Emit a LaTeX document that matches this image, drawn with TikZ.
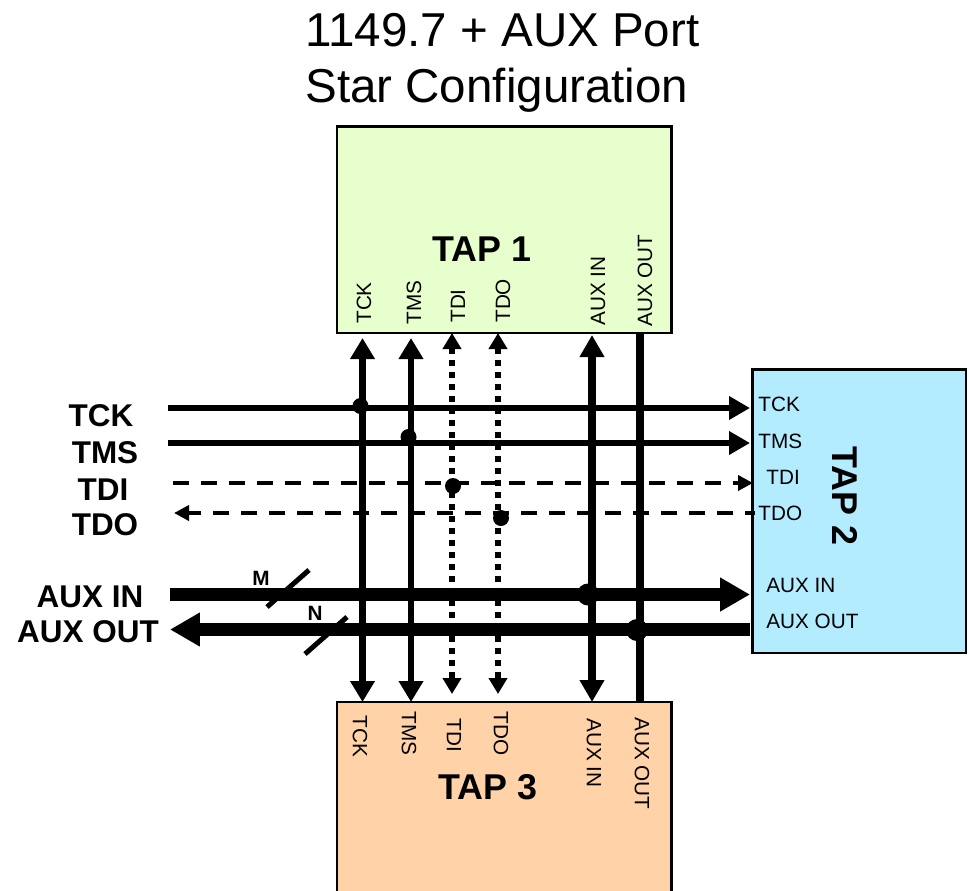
\documentclass[tikz,border=0pt]{standalone}
\usepackage{fontspec}
\setmainfont{Liberation Sans}
\usetikzlibrary{arrows.meta}
\definecolor{tapgreen}{HTML}{E6FFCC}
\definecolor{tapblue}{HTML}{B3ECFF}
\definecolor{taporange}{HTML}{FFD2A8}
\begin{document}
\begin{tikzpicture}[
  x=0.02cm, y=-0.02cm,
  tapbox/.style={draw=black, line width=0.05cm, anchor=north west, inner sep=0pt},
  taptitle/.style={font=\fontsize{20.4}{23}\selectfont\bfseries, inner sep=0pt},
  sigbold/.style={font=\fontsize{17.9}{20}\selectfont\bfseries, inner sep=0pt},
  port/.style={font=\fontsize{11.8}{14}\selectfont, inner sep=0pt},
  portup/.style={port, rotate=90, anchor=west},
  portdown/.style={port, rotate=-90, anchor=west},
  portright/.style={port, anchor=west},
  buswidth/.style={font=\fontsize{11.8}{13}\selectfont\bfseries, inner sep=0pt},
  jdot/.style={circle, fill=black, inner sep=0pt, minimum size=0.32cm},
  jdotbig/.style={circle, fill=black, inner sep=0pt, minimum size=0.44cm},
  sigv/.style={line width=0.125cm, >={Triangle[length=0.42cm,width=0.47cm]}},
  sigh/.style={line width=0.11cm, >={Triangle[length=0.42cm,width=0.45cm]}},
  dotted line/.style={line width=0.12cm, dash pattern=on 0.12cm off 0.12cm, >={Triangle[length=0.32cm,width=0.36cm]}},
  dashed line/.style={line width=0.08cm, dash pattern=on 0.32cm off 0.24cm, >={Triangle[length=0.3cm,width=0.3cm]}},
  auxv/.style={line width=0.16cm, >={Triangle[length=0.44cm,width=0.47cm]}},
  auxh/.style={line width=0.25cm, >={Triangle[length=0.6cm,width=0.64cm]}},
  slash/.style={line width=0.1cm}
]
  \useasboundingbox (0,0) rectangle (969,890);
  \clip (0,0) rectangle (969,890);

  % --- title ---
  \node[align=left, anchor=west, inner sep=0pt, font=\fontsize{27.05}{31.7}\selectfont] (title) at (305,63) {1149.7 + AUX Port\\Star Configuration};

  % --- TAP 1 ---
  \node[tapbox, fill=tapgreen, minimum width=6.7cm, minimum height=4.135cm] (tap1) at (335.5,125) {};
  \node[taptitle] (tap1name) at (482,249) {TAP 1};
  \node[portup] (tck1) at (364,324) {TCK};
  \node[portup] (tms1) at (414,325) {TMS};
  \node[portup] (tdi1) at (458,323) {TDI};
  \node[portup] (tdo1) at (503,323) {TDO};
  \node[portup] (auxin1) at (598,326) {AUX IN};
  \node[portup] (auxout1) at (645,327) {AUX OUT};

  % --- TAP 2 ---
  \node[tapbox, fill=tapblue, minimum width=4.28cm, minimum height=5.68cm] (tap2) at (751,368) {};
  \node[taptitle, rotate=-90] (tap2name) at (845,496) {TAP 2};
  \node[portright] (tck2) at (758,404) {TCK};
  \node[portright] (tms2) at (758,441) {TMS};
  \node[portright] (tdi2) at (766,477) {TDI};
  \node[portright] (tdo2) at (758,513) {TDO};
  \node[portright] (auxin2) at (766,585) {AUX IN};
  \node[portright] (auxout2) at (766,621) {AUX OUT};

  % --- TAP 3 ---
  \node[tapbox, fill=taporange, minimum width=6.7cm, minimum height=4.4cm] (tap3) at (335.5,700.75) {};
  \node[taptitle] (tap3name) at (488,787) {TAP 3};
  \node[portdown] (tck3) at (360,715) {TCK};
  \node[portdown] (tms3) at (409,711) {TMS};
  \node[portdown] (tdi3) at (454,718) {TDI};
  \node[portdown] (tdo3) at (501,711) {TDO};
  \node[portdown] (auxin3) at (594,718) {AUX IN};
  \node[portdown] (auxout3) at (642,717) {AUX OUT};

  % --- left labels ---
  \node[sigbold] (ltck) at (101,416) {TCK};
  \node[sigbold] (ltms) at (105,453) {TMS};
  \node[sigbold] (ltdi) at (103,490) {TDI};
  \node[sigbold] (ltdo) at (105,525) {TDO};
  \node[sigbold] (lauxin) at (90,597) {AUX IN};
  \node[sigbold] (lauxout) at (88,632) {AUX OUT};

  % --- free ends ---
  \coordinate (tcktop) at (362.5,338);
  \coordinate (tckbot) at (362.5,702);
  \coordinate (tmstop) at (411,338);
  \coordinate (tmsbot) at (411,702);
  \coordinate (tditop) at (452,333);
  \coordinate (tdibot) at (452,694);
  \coordinate (tdotop) at (498,333);
  \coordinate (tdobot) at (498,694);
  \coordinate (auxintop) at (592,335);
  \coordinate (auxinbot) at (592,702);
  \coordinate (auxouttop) at (640,333);
  \coordinate (auxoutbot) at (640,702);
  \coordinate (htck) at (168,408);
  \coordinate (htckend) at (750,408);
  \coordinate (htms) at (168,443);
  \coordinate (htmsend) at (750,443);
  \coordinate (htdi) at (173,483);
  \coordinate (htdiend) at (753,483);
  \coordinate (htdo) at (174,513);
  \coordinate (htdoend) at (755,513);
  \coordinate (hauxin) at (170,594.5);
  \coordinate (hauxinend) at (750,594.5);
  \coordinate (hauxout) at (170,629.5);
  \coordinate (hauxoutend) at (750,629.5);

  % --- vertical lines ---
  \draw[sigv, <->] (tcktop) -- (tckbot);
  \draw[sigv, <->] (tmstop) -- (tmsbot);
  \draw[dotted line, <->] (tditop) -- (tdibot);
  \draw[dotted line, <->] (tdotop) -- (tdobot);
  \draw[auxv, <->] (auxintop) -- (auxinbot);
  \draw[auxv] (auxouttop) -- (auxoutbot);

  % --- horizontal lines ---
  \draw[sigh, ->] (htck) -- (htckend);
  \draw[sigh, ->] (htms) -- (htmsend);
  \draw[dashed line, ->] (htdi) -- (htdiend);
  \draw[dashed line, <-, dash phase=0.06cm] (htdo) -- (htdoend);
  \draw[auxh, ->] (hauxin) -- (hauxinend);
  \draw[auxh, <-] (hauxout) -- (hauxoutend);

  % --- junctions ---
  \node[jdot] (j1) at (360.5,406) {};
  \node[jdot] (j2) at (408.5,437) {};
  \node[jdot] (j3) at (453,486) {};
  \node[jdot] (j4) at (501,518) {};
  \node[jdotbig] (j5) at (588,594.5) {};
  \node[jdotbig] (j6) at (637,630) {};

  % --- bus widths ---
  \coordinate (ma) at (267,607);
  \coordinate (mb) at (309,570);
  \coordinate (na) at (305,654);
  \coordinate (nb) at (347,617);
  \draw[slash] (ma) -- (mb);
  \draw[slash] (na) -- (nb);
  \node[buswidth] (mlabel) at (261,578) {M};
  \node[buswidth] (nlabel) at (315,613) {N};
\end{tikzpicture}
\end{document}
